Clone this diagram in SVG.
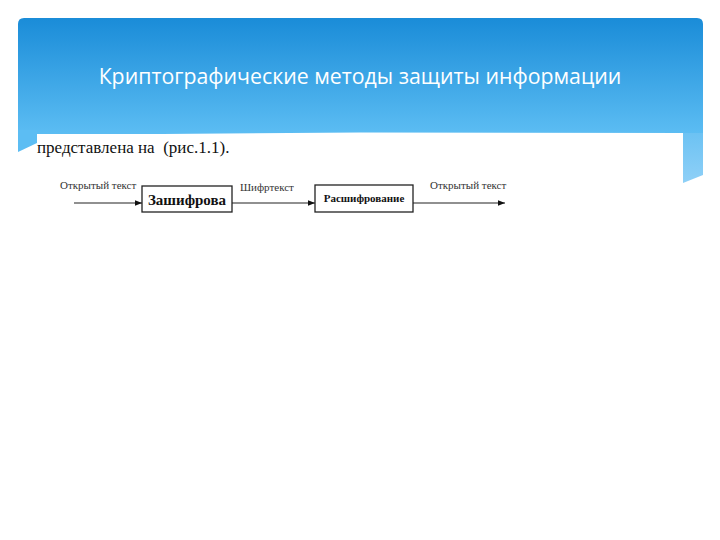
<svg xmlns="http://www.w3.org/2000/svg" width="720" height="540" viewBox="0 0 720 540">
<defs>
<linearGradient id="bg" x1="0" y1="0" x2="0" y2="1">
<stop offset="0" stop-color="#1a8cd8"/>
<stop offset="1" stop-color="#5cbdf3"/>
</linearGradient>
<linearGradient id="fold" x1="0" y1="0" x2="0" y2="1">
<stop offset="0" stop-color="#6cc2f3"/>
<stop offset="1" stop-color="#8fd0f7"/>
</linearGradient>
<marker id="ah" viewBox="0 0 10 10" refX="10" refY="5" markerWidth="7" markerHeight="7" markerUnits="userSpaceOnUse" orient="auto">
<path d="M0,1 L10,5 L0,9 Z" fill="#111"/>
</marker>
<style>
.lbl{font-family:"Liberation Serif",serif;font-size:11px;fill:#333}
.box{fill:#fff;stroke:#222;stroke-width:1.3}
.ln{stroke:#222;stroke-width:1.2;fill:none;marker-end:url(#ah)}
</style>
</defs>
<rect width="720" height="540" fill="#fff"/>
<g id="banner">
<path d="M18,24 Q18,18 24,18 L697,18 Q703,18 703,24 L703,134 L18,134 Z" fill="url(#bg)"/>
<polygon points="18,130 37,130 37,143 18,152" fill="#5cbdf3"/>
<polygon points="683,133 703,133 703,175 683,183" fill="url(#fold)"/>
<text x="360" y="84" text-anchor="middle" font-family="'Open Sans',sans-serif" font-size="21.3" fill="#fff">Криптографические методы защиты информации</text>
</g>
<g id="figure">
<path d="M37,135 L360,132.5 L683,133 L683,540 L37,540 Z" fill="#fff"/>
<text x="37" y="153" font-family="'Liberation Serif',serif" font-size="17" fill="#111" xml:space="preserve">представлена на  (рис.1.1).</text>
</g>
<g id="connectors">
<line class="ln" x1="74" y1="203" x2="142" y2="203"/>
<line class="ln" x1="232" y1="203" x2="315" y2="203"/>
<line class="ln" x1="413" y1="203" x2="505" y2="203"/>
</g>
<g id="n-open1"><text class="lbl" x="60" y="189">Открытый текст</text></g>
<g id="n-encrypt">
<rect class="box" x="142" y="186" width="90" height="26"/>
<text x="187" y="205" text-anchor="middle" font-family="'Liberation Serif',serif" font-weight="bold" font-size="15" fill="#111">Зашифрова</text>
</g>
<g id="n-cipher"><text class="lbl" x="240" y="191">Шифртекст</text></g>
<g id="n-decrypt">
<rect class="box" x="315" y="185" width="98" height="27"/>
<text x="364" y="202" text-anchor="middle" font-family="'Liberation Serif',serif" font-weight="bold" font-size="11" fill="#111">Расшифрование</text>
</g>
<g id="n-open2"><text class="lbl" x="430" y="189">Открытый текст</text></g>
</svg>
